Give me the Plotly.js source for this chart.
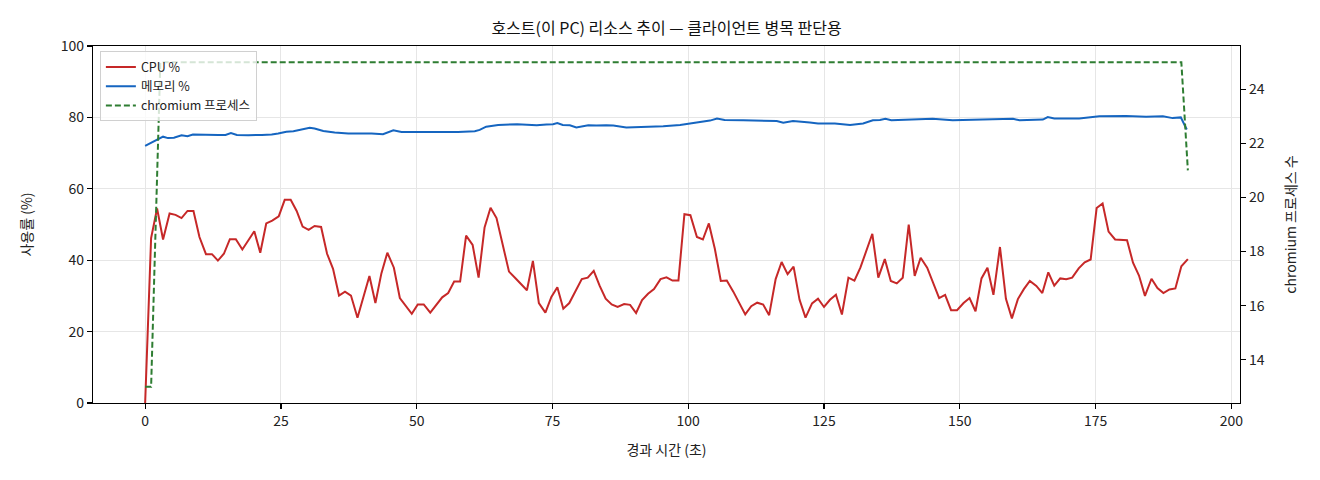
<!DOCTYPE html>
<html>
<head>
<meta charset="utf-8">
<script src="https://cdn.plot.ly/plotly-3.0.1.min.js"></script>
<style>html,body{margin:0;padding:0;background:#fff;}#chart{width:1320px;height:480px;}</style>
</head>
<body>
<div id="chart"></div>
<script>
// elapsed time (s) of each CPU sample
const timeSec = [0.0,1.1,2.2,3.3,4.5,5.6,6.7,7.8,8.9,10.0,11.2,12.3,13.4,14.5,15.6,16.7,17.9,19.0,20.1,21.2,22.3,23.4,24.6,25.7,26.8,27.9,29.0,30.1,31.2,32.4,33.5,34.6,35.7,36.8,37.9,39.1,40.2,41.3,42.4,43.5,44.6,45.8,46.9,48.0,49.1,50.2,51.3,52.5,53.6,54.7,55.8,56.9,58.0,59.1,60.3,61.4,62.5,63.6,64.7,65.8,67.0,68.1,69.2,70.3,71.4,72.5,73.7,74.8,75.9,77.0,78.1,79.2,80.4,81.5,82.6,83.7,84.8,85.9,87.0,88.2,89.3,90.4,91.5,92.6,93.7,94.9,96.0,97.1,98.2,99.3,100.4,101.6,102.7,103.8,104.9,106.0,107.1,108.3,109.4,110.5,111.6,112.7,113.8,114.9,116.1,117.2,118.3,119.4,120.5,121.6,122.8,123.9,125.0,126.1,127.2,128.3,129.5,130.6,131.7,132.8,133.9,135.0,136.2,137.3,138.4,139.5,140.6,141.7,142.8,144.0,145.1,146.2,147.3,148.4,149.5,150.7,151.8,152.9,154.0,155.1,156.2,157.4,158.5,159.6,160.7,161.8,162.9,164.1,165.2,166.3,167.4,168.5,169.6,170.7,171.9,173.0,174.1,175.2,176.3,177.4,178.6,179.7,180.8,181.9,183.0,184.1,185.3,186.4,187.5,188.6,189.7,190.8,192.0];
const cpuPct = [0,46.2,54.5,45.8,53.1,52.7,51.8,53.8,53.8,46.5,41.7,41.7,39.9,41.8,45.9,45.9,43.0,45.7,48.1,42.1,50.3,51.1,52.3,56.9,56.9,53.8,49.4,48.5,49.6,49.3,41.8,37.6,30.1,31.2,30.1,23.9,29.6,35.6,28.0,36.3,42.1,37.9,29.4,27.3,25.0,27.6,27.6,25.3,27.3,29.6,30.8,34.0,34.0,46.9,44.3,35.1,49.2,54.7,51.8,44.3,36.8,35.1,33.3,31.6,39.8,28.0,25.3,29.7,32.4,26.4,28.0,31.1,34.7,35.1,37.0,32.8,29.2,27.6,26.9,27.7,27.5,25.2,28.8,30.6,31.9,34.7,35.2,34.3,34.3,52.9,52.6,46.5,45.8,50.3,43.2,34.2,34.3,31.2,28.0,24.8,27.1,28.1,27.6,24.6,34.7,39.5,36.1,38.2,28.9,23.9,27.9,29.2,26.9,28.9,30.3,24.8,35.1,34.3,37.9,42.8,47.4,35.1,40.3,34.2,33.5,35.1,50.0,35.6,40.7,37.9,33.5,29.4,30.3,26.0,26.0,28.0,29.4,25.7,34.9,37.9,30.3,43.7,29.2,23.7,29.1,31.9,34.2,32.8,30.8,36.6,32.9,34.9,34.7,35.1,37.7,39.4,40.2,54.6,55.9,48.0,45.8,45.7,45.6,39.3,35.7,30.0,34.8,32.2,30.8,31.8,32.1,38.3,40.3];
// memory curve, read at its visible vertices
const memTime = [0,2.4,3.3,4.2,5.3,6.7,7.8,8.8,10.4,11.9,13.5,14.8,15.8,16.9,19.0,21.5,23.3,24.5,26.0,27.3,28.8,30.3,31.2,32.8,34.9,37.4,41.7,43.8,45.7,47.2,50.3,54.0,57.6,60.7,61.6,62.8,65.0,68.5,72.1,73.9,75.1,75.9,76.9,78.2,79.4,81.6,83.1,84.9,86.2,88.6,91.7,95.4,98.5,100.3,102.1,104.0,105.3,106.7,110.1,113.8,116.3,117.5,119.3,122.4,123.9,127.0,128.5,129.8,132.2,134.0,135.3,136.3,137.4,140.1,145.0,148.7,153.6,159.8,161.0,165.3,166.2,167.4,172.0,175.7,180.6,184.3,187.4,189.2,190.7,191.8];
const memPct = [72.0,73.8,74.6,74.2,74.3,75.0,74.7,75.2,75.1,75.1,75.1,75.1,75.6,75.1,75.0,75.1,75.2,75.5,76.0,76.1,76.7,77.1,76.9,76.2,75.8,75.5,75.5,75.3,76.4,75.9,75.9,75.8,75.9,76.1,76.5,77.4,77.9,78.1,77.8,78.0,78.1,78.4,77.9,77.8,77.2,77.8,77.7,77.8,77.7,77.2,77.3,77.5,77.9,78.3,78.7,79.1,79.7,79.3,79.2,79.0,79.0,78.5,79.0,78.6,78.3,78.3,78.1,77.9,78.3,79.2,79.3,79.6,79.2,79.3,79.6,79.2,79.3,79.6,79.2,79.4,80.1,79.7,79.7,80.3,80.4,80.2,80.3,79.8,80.0,76.6];
// chromium process count, at its change points
const procTime = [0.0,1.1,2.8,190.8,192.0];
const procCount = [13,13,25,25,21];
const xTicks = [0,25,50,75,100,125,150,175,200];
const yTicks = [0,20,40,60,80,100];
const y2Ticks = [14,16,18,20,22,24];

const FONT = '"Noto Sans CJK KR", "Noto Sans", sans-serif';
const traces = [
  {x: timeSec, y: cpuPct, name: 'CPU %', type: 'scatter', mode: 'lines', line: {color: '#c62828', width: 2}},
  {x: memTime, y: memPct, name: '메모리 %', type: 'scatter', mode: 'lines', line: {color: '#1565c0', width: 2}},
  {x: procTime, y: procCount, name: 'chromium 프로세스', type: 'scatter', mode: 'lines', yaxis: 'y2', line: {color: '#2e7d32', width: 2, dash: '6px,3px'}}
];
const axisCommon = {
  showline: true, linecolor: '#000', linewidth: 1.2, ticks: 'outside', ticklen: 5, tickwidth: 1.2, tickcolor: '#000',
  zeroline: false, tickfont: {family: FONT, size: 14, color: '#222'}
};
const layout = {
  width: 1320, height: 480,
  margin: {l: 93, r: 80, t: 46, b: 77},
  paper_bgcolor: '#fff', plot_bgcolor: '#fff',
  font: {family: FONT, color: '#222'},
  title: {text: '호스트(이 PC) 리소스 추이 — 클라이언트 병목 판단용', font: {family: FONT, size: 16, color: '#111'},
          x: 0.5, xref: 'paper', y: 1 - 28/480, yref: 'container', yanchor: 'middle'},
  xaxis: Object.assign({}, axisCommon, {range: [-9.6, 201.6], tickvals: xTicks, mirror: true,
          showgrid: true, gridcolor: '#e6e6e6', gridwidth: 1,
          title: {text: '경과 시간 (초)', font: {family: FONT, size: 14, color: '#222'}, standoff: 16}}),
  yaxis: Object.assign({}, axisCommon, {range: [0, 100], tickvals: yTicks, mirror: true,
          showgrid: true, gridcolor: '#e6e6e6', gridwidth: 1,
          title: {text: '사용률 (%)', font: {family: FONT, size: 14, color: '#222'}, standoff: 24}}),
  yaxis2: Object.assign({}, axisCommon, {range: [12.4, 25.6], tickvals: y2Ticks, overlaying: 'y', side: 'right',
          showgrid: false,
          title: {text: 'chromium 프로세스 수', font: {family: FONT, size: 14, color: '#222'}, standoff: 22}}),
  legend: {x: 0.006, y: 0.985, xanchor: 'left', yanchor: 'top', bgcolor: 'rgba(255,255,255,0.8)',
           bordercolor: '#d0d0d0', borderwidth: 1, font: {family: FONT, size: 12.5, color: '#222'},
           tracegroupgap: 0, itemwidth: 30},
  showlegend: true
};
Plotly.newPlot('chart', traces, layout, {displayModeBar: false, staticPlot: true});
</script>
</body>
</html>
